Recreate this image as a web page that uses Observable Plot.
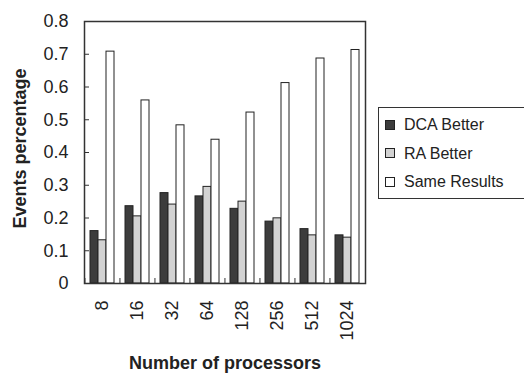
<!DOCTYPE html>
<html><head><meta charset="utf-8">
<script src="https://cdn.jsdelivr.net/npm/d3@7"></script>
<script src="https://cdn.jsdelivr.net/npm/@observablehq/plot@0.6"></script>
<style>
html,body{margin:0;padding:0;background:#fff;overflow:hidden;width:524px;height:374px}
#wrap{position:relative;width:524px;height:374px;overflow:hidden}
.legend{position:absolute;left:378px;top:107px;width:170px;height:90px;border:1.5px solid #333;background:#fff;font:16px "Liberation Sans",Arial,sans-serif;color:#222}
.item{position:absolute;left:6px;height:20px;line-height:20px;white-space:nowrap}
.sw{display:inline-block;width:8px;height:8px;border:1px solid #222;vertical-align:middle;margin-right:9px;position:relative;top:-1px}
</style></head><body><div id="wrap"></div>
<script>
const processors = ["8","16","32","64","128","256","512","1024"];
const series = ["DCA Better","RA Better","Same Results"];
const dcaBetter   = [0.160,0.236,0.276,0.266,0.228,0.189,0.166,0.147];
const raBetter    = [0.132,0.205,0.241,0.295,0.250,0.199,0.147,0.140];
const sameResults = [0.708,0.559,0.483,0.439,0.522,0.612,0.687,0.713];
const yTicks = [0,0.1,0.2,0.3,0.4,0.5,0.6,0.7,0.8];
const yTitle = "Events percentage";
const xTitle = "Number of processors";
const colors = ["#3c3c3c","#d2d2d2","#ffffff"];

const W=524,H=374,mL=84,mR=159,mT=21,mB=91;
const fw=W-mL-mR, fh=H-mT-mB, step=fw/processors.length;
const rows = processors.map((p,i)=>({p, dca:dcaBetter[i], ra:raBetter[i], same:sameResults[i]}));
const font = '"Liberation Sans", Arial, sans-serif';

const chart = Plot.plot({
  width:W, height:H, marginLeft:mL, marginRight:mR, marginTop:mT, marginBottom:mB,
  style:{fontFamily:font, color:"#222", background:"#fff"},
  x:{domain:processors, paddingInner:0.772, paddingOuter:0.386, label:null},
  y:{domain:[0,0.8], label:null},
  marks:[
    Plot.barY(rows,{x:"p", y:"dca", dx:-8, fill:colors[0], stroke:"#222", strokeWidth:1}),
    Plot.barY(rows,{x:"p", y:"ra", dx:0, fill:colors[1], stroke:"#222", strokeWidth:1}),
    Plot.barY(rows,{x:"p", y:"same", dx:8, fill:colors[2], stroke:"#222", strokeWidth:1}),
    Plot.ruleY(yTicks,{y:d=>d, insetRight:fw-5, stroke:"#333"}),
    Plot.ruleX(processors,{x:d=>d, dx:-step/2, insetTop:fh-5, stroke:"#333"}),
    Plot.frame({stroke:"#333", strokeWidth:1.5}),
    Plot.axisY({ticks:yTicks, tickSize:0, tickPadding:16, fontSize:18, tickFormat:d=>d===0?"0":d.toFixed(1)}),
    Plot.axisX({tickSize:0, tickRotate:-90, tickPadding:17, fontSize:18}),
    Plot.text([yTitle],{text:d=>d, frameAnchor:"left", textAnchor:"middle", dx:-64, dy:-4, rotate:-90, fontWeight:"bold", fontSize:18}),
    Plot.text([xTitle],{text:d=>d, frameAnchor:"bottom", textAnchor:"middle", lineAnchor:"middle", dy:80, fontWeight:"bold", fontSize:18})
  ]
});
const wrap=document.getElementById("wrap");
wrap.appendChild(chart);
const lg=document.createElement("div"); lg.className="legend";
series.forEach((s,i)=>{
  const it=document.createElement("div"); it.className="item"; it.style.top=(7+i*28.5)+"px";
  const sw=document.createElement("span"); sw.className="sw"; sw.style.background=colors[i];
  it.appendChild(sw); it.appendChild(document.createTextNode(s)); lg.appendChild(it);
});
wrap.appendChild(lg);
</script></body></html>
